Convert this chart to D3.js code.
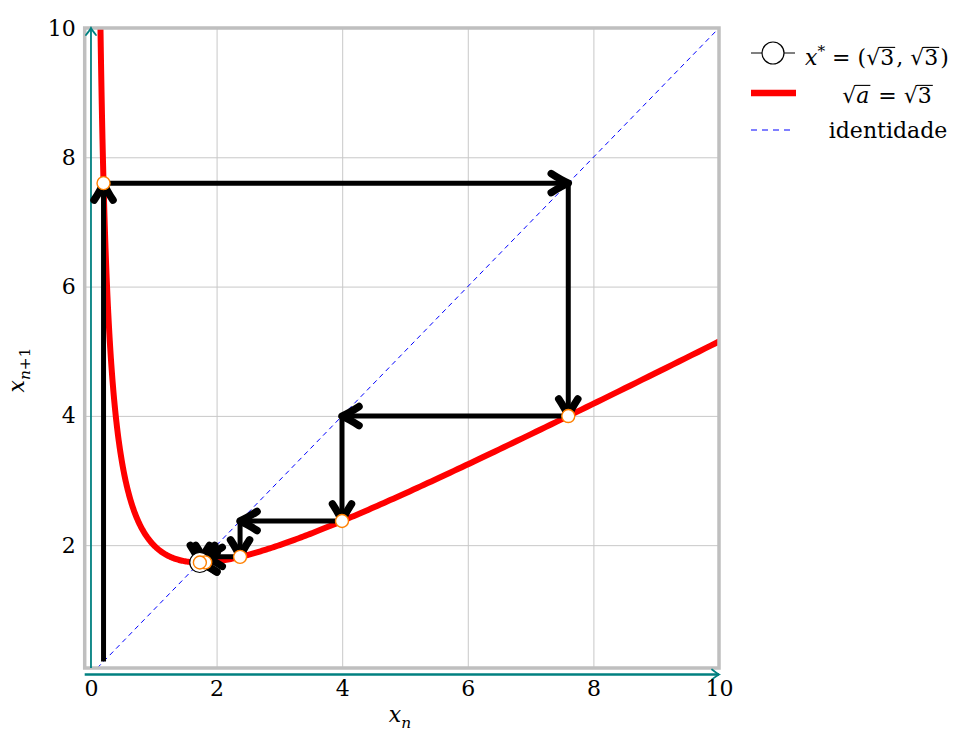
<!DOCTYPE html>
<html>
<head>
<meta charset="utf-8">
<script src="https://cdn.jsdelivr.net/npm/d3@7"></script>
<style>
  html, body { margin: 0; padding: 0; background: #fff; }
  svg { display: block; }
  marker { overflow: visible; }
</style>
</head>
<body>
<div id="chart"></div>
<script>
// Newton iteration for sqrt(3): x_{n+1} = (x_n + a/x_n)/2, a = 3
const a = 3;
// iterates
const iterates = [0.2, 7.6, 3.997, 2.374, 1.819, 1.734, 1.7321];
const fixedPoint = [Math.sqrt(3), Math.sqrt(3)];
const xTicks = [0, 2, 4, 6, 8, 10];
const yTicks = [2, 4, 6, 8, 10];
const gridVals = [2, 4, 6, 8];
const xDomain = [-0.1, 10];
const yDomain = [0.1, 10];

const W = 972, H = 731;
const FONT = 'DejaVu Serif, Liberation Serif, serif';
const FS = 22;

const svg = d3.select('#chart').append('svg')
    .attr('width', W).attr('height', H);

const x = d3.scaleLinear().domain(xDomain).range([84.7, 719]);
const y = d3.scaleLinear().domain(yDomain).range([668, 28]);

const defs = svg.append('defs');
defs.append('clipPath').attr('id', 'plotclip')
  .append('rect')
    .attr('x', x(xDomain[0])).attr('y', y(yDomain[1]))
    .attr('width', x(xDomain[1]) - x(xDomain[0]))
    .attr('height', y(yDomain[0]) - y(yDomain[1]));

// black chevron arrow for cobweb
defs.append('marker')
    .attr('id', 'cob')
    .attr('markerUnits', 'userSpaceOnUse')
    .attr('markerWidth', 1).attr('markerHeight', 1)
    .attr('refX', 0).attr('refY', 0)
    .attr('orient', 'auto')
  .append('path')
    .attr('d', 'M-17,-9.5 Q-7,-3 0,0 Q-7,3 -17,9.5')
    .attr('fill', 'none').attr('stroke', '#000')
    .attr('stroke-width', 7.5).attr('stroke-linecap', 'round').attr('stroke-linejoin', 'round');

// teal axis arrow
defs.append('marker')
    .attr('id', 'ax')
    .attr('markerUnits', 'userSpaceOnUse')
    .attr('markerWidth', 1).attr('markerHeight', 1)
    .attr('refX', 0).attr('refY', 0)
    .attr('orient', 'auto')
  .append('path')
    .attr('d', 'M-7,-5 Q-2,-1 0,0 Q-2,1 -7,5')
    .attr('fill', 'none').attr('stroke', '#008080')
    .attr('stroke-width', 1.8).attr('stroke-linecap', 'round');

// grid
const grid = svg.append('g').attr('class', 'grid');
grid.append('g')
    .attr('transform', `translate(0,${y(yDomain[0])})`)
    .call(d3.axisBottom(x).tickValues(gridVals).tickSize(-(y(yDomain[0]) - y(yDomain[1]))).tickFormat(''))
    .call(g => { g.select('.domain').remove(); g.selectAll('line').attr('stroke', '#c8c8c8').attr('stroke-width', 1); });
grid.append('g')
    .attr('transform', `translate(${x(xDomain[0])},0)`)
    .call(d3.axisLeft(y).tickValues(gridVals).tickSize(-(x(xDomain[1]) - x(xDomain[0]))).tickFormat(''))
    .call(g => { g.select('.domain').remove(); g.selectAll('line').attr('stroke', '#c8c8c8').attr('stroke-width', 1); });

const plot = svg.append('g').attr('clip-path', 'url(#plotclip)');

// identity
plot.append('line')
    .attr('x1', x(0.1)).attr('y1', y(0.1))
    .attr('x2', x(10)).attr('y2', y(10))
    .attr('stroke', '#0000ff').attr('stroke-width', 1)
    .attr('stroke-dasharray', '5,4');

// Newton map curve
const curveX = d3.range(0, 401).map(i => 0.14 * Math.pow(10.2 / 0.14, i / 400));
const newton = v => (v + a / v) / 2;
plot.append('path')
    .datum(curveX)
    .attr('d', d3.line().x(d => x(d)).y(d => y(newton(d))))
    .attr('fill', 'none').attr('stroke', '#ff0000').attr('stroke-width', 6);

// frame
svg.append('rect')
    .attr('x', x(xDomain[0])).attr('y', y(yDomain[1]))
    .attr('width', x(xDomain[1]) - x(xDomain[0]))
    .attr('height', y(yDomain[0]) - y(yDomain[1]))
    .attr('fill', 'none').attr('stroke', '#bfbfbf').attr('stroke-width', 3.5);

// teal axes
svg.append('line')
    .attr('x1', x(0)).attr('y1', y(yDomain[0]))
    .attr('x2', x(0)).attr('y2', y(yDomain[1]))
    .attr('stroke', '#008080').attr('stroke-width', 1.8)
    .attr('marker-end', 'url(#ax)');
svg.append('line')
    .attr('x1', x(xDomain[0])).attr('y1', y(0))
    .attr('x2', x(xDomain[1])).attr('y2', y(0))
    .attr('stroke', '#008080').attr('stroke-width', 2.5)
    .attr('marker-end', 'url(#ax)');

// cobweb
const segs = [];
for (let i = 0; i < iterates.length - 1; i++) {
  const a0 = iterates[i], a1 = iterates[i + 1];
  segs.push([[a0, a0], [a0, a1]]);
  segs.push([[a0, a1], [a1, a1]]);
}
svg.append('g').selectAll('line')
  .data(segs)
  .join('line')
    .attr('x1', d => x(d[0][0])).attr('y1', d => y(d[0][1]))
    .attr('x2', d => x(d[1][0])).attr('y2', d => y(d[1][1]))
    .attr('stroke', '#000').attr('stroke-width', 5)
    .attr('marker-end', 'url(#cob)');

// fixed point
svg.append('circle')
    .attr('cx', x(fixedPoint[0])).attr('cy', y(fixedPoint[1]))
    .attr('r', 10)
    .attr('fill', '#fff').attr('stroke', '#000').attr('stroke-width', 1.2);

// orbit points on the curve
const orbit = iterates.slice(0, -1).map((v, i) => [v, iterates[i + 1]]);
svg.append('g').selectAll('circle')
  .data(orbit)
  .join('circle')
    .attr('cx', d => x(d[0])).attr('cy', d => y(d[1]))
    .attr('r', 6.5)
    .attr('fill', '#fff').attr('stroke', '#ff8000').attr('stroke-width', 1.4);

// tick labels
svg.append('g')
    .attr('transform', `translate(0,${y(0)})`)
    .call(d3.axisBottom(x).tickValues(xTicks).tickSize(0).tickPadding(6))
    .call(g => {
      g.select('.domain').remove();
      g.selectAll('text').attr('font-family', FONT).attr('font-size', FS).attr('fill', '#000');
    });
svg.append('g')
    .attr('transform', `translate(${x(xDomain[0])},0)`)
    .call(d3.axisLeft(y).tickValues(yTicks).tickSize(0).tickPadding(9))
    .call(g => {
      g.select('.domain').remove();
      g.selectAll('text').attr('font-family', FONT).attr('font-size', FS).attr('fill', '#000');
    });

// math text helper: pieces {t, it, sqrt, sup, sub}
function mathText(parent, px, py, pieces, size, anchor) {
  const g = parent.append('g');
  let cur = 0;
  pieces.forEach(p => {
    const sz = (p.sup || p.sub) ? size * 0.7 : size;
    const dy = p.sup ? -size * 0.42 : p.sub ? size * 0.25 : 0;
    if (p.sqrt) {
      const r = g.append('text').attr('x', cur).attr('y', 0)
          .attr('font-family', FONT).attr('font-size', size).text('\u221A');
      const rw = r.node().getComputedTextLength();
      const startLine = cur + rw - 1;
      cur += rw;
      const t = g.append('text').attr('x', cur).attr('y', 0)
          .attr('font-family', FONT).attr('font-size', size)
          .attr('font-style', p.it ? 'italic' : 'normal').text(p.t);
      cur += t.node().getComputedTextLength() + 1;
      g.append('line')
          .attr('x1', startLine).attr('x2', cur)
          .attr('y1', -size * 0.8).attr('y2', -size * 0.8)
          .attr('stroke', '#000').attr('stroke-width', 1.1);
      cur += 1;
    } else {
      const t = g.append('text').attr('x', cur).attr('y', dy)
          .attr('font-family', FONT).attr('font-size', sz)
          .attr('font-style', p.it ? 'italic' : 'normal')
          .attr('xml:space', 'preserve').text(p.t);
      cur += t.node().getComputedTextLength();
    }
  });
  const off = anchor === 'middle' ? -cur / 2 : 0;
  g.attr('transform', `translate(${px + off},${py})`);
  return g;
}

// axis labels
mathText(svg, 400, 722, [{ t: 'x', it: true }, { t: 'n', it: true, sub: true }], FS, 'middle');
const yl = svg.append('g').attr('transform', 'translate(24,370) rotate(-90)');
mathText(yl, 0, 0, [{ t: 'x', it: true }, { t: 'n', it: true, sub: true }, { t: '+1', sub: true }], FS, 'middle');

// legend
const leg = svg.append('g');
leg.append('line').attr('x1', 751).attr('x2', 795).attr('y1', 53).attr('y2', 53)
    .attr('stroke', '#000').attr('stroke-width', 1);
leg.append('circle').attr('cx', 773).attr('cy', 53).attr('r', 11)
    .attr('fill', '#fff').attr('stroke', '#000').attr('stroke-width', 1.2);
mathText(leg, 805, 65, [
  { t: 'x', it: true }, { t: '*', sup: true }, { t: ' = (' },
  { t: '3', sqrt: true }, { t: ', ' }, { t: '3', sqrt: true }, { t: ')' }
], FS, 'start');

leg.append('line').attr('x1', 751).attr('x2', 796).attr('y1', 93).attr('y2', 93)
    .attr('stroke', '#ff0000').attr('stroke-width', 6.5);
mathText(leg, 888, 103, [
  { t: 'a', it: true, sqrt: true }, { t: ' = ' }, { t: '3', sqrt: true }
], FS, 'middle');

leg.append('line').attr('x1', 751).attr('x2', 792).attr('y1', 130).attr('y2', 130)
    .attr('stroke', '#0000ff').attr('stroke-width', 1).attr('stroke-dasharray', '6,5');
mathText(leg, 888, 138, [{ t: 'identidade' }], FS, 'middle');
</script>
</body>
</html>
